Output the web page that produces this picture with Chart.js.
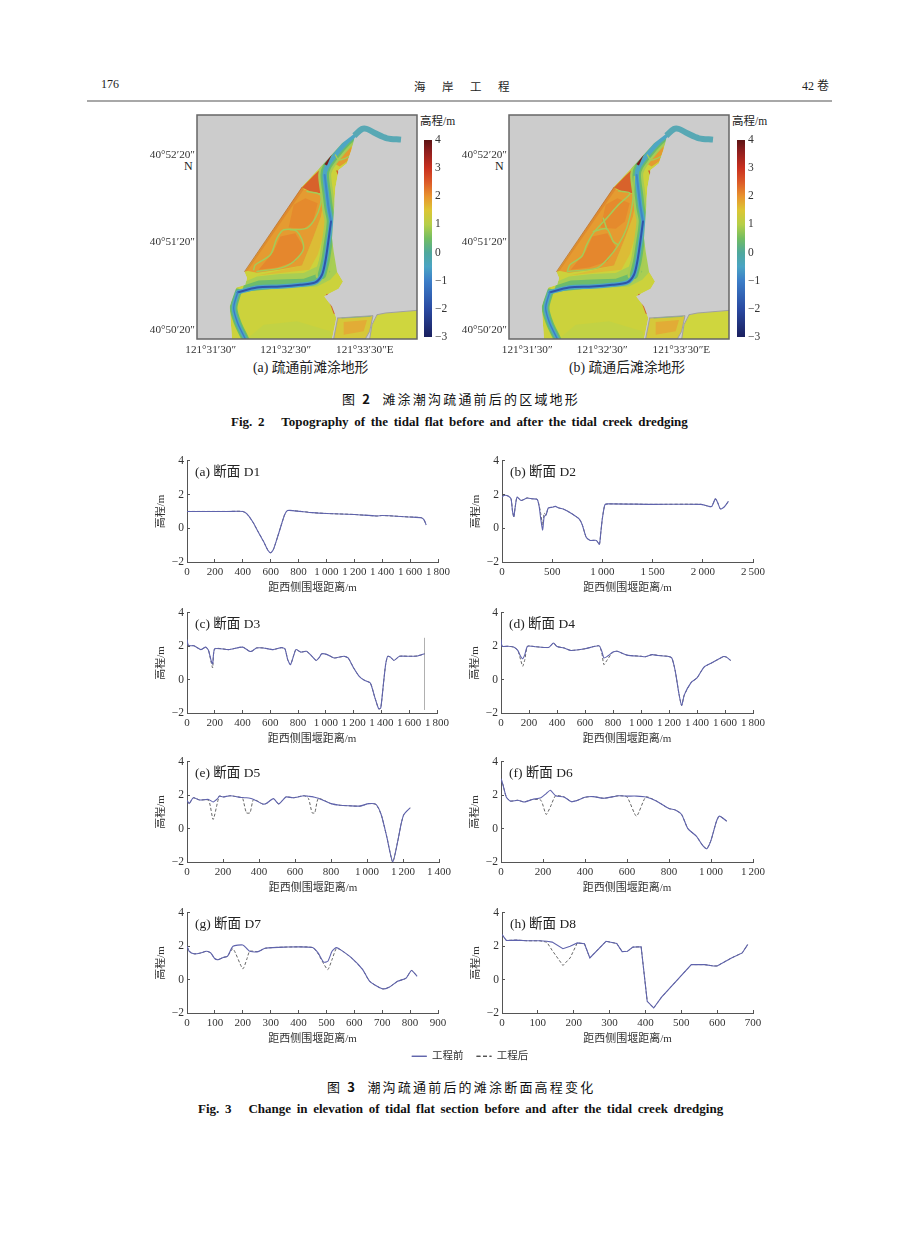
<!DOCTYPE html>
<html>
<head>
<meta charset="utf-8">
<script src="https://cdn.jsdelivr.net/npm/chart.js@4"></script>
<style>
html, body { margin: 0; background: #fff; }
#page { position: relative; width: 920px; height: 1249px; overflow: hidden; font-family: "Liberation Serif", "Noto Sans CJK SC"; color: #222; }
#page canvas { position: absolute; }
.t { position: absolute; white-space: pre; line-height: 16px; }
.head { font-family: "Noto Sans CJK SC"; font-size: 13px; letter-spacing: 2.2px; color: #111; }
.en { font-weight: bold; font-size: 13px; color: #111; word-spacing: 2.4px; }
.map { filter: blur(0.6px); }
</style>
</head>
<body>
<div id="page">
  <div class="t" style="left:101px;top:76px;font-size:12px">176</div>
  <div class="t" style="left:414px;top:78px;font-size:11.5px;letter-spacing:16.5px;font-family:'Noto Sans CJK SC'">海岸工程</div>
  <div class="t" style="left:802px;top:78px;font-size:12px">42 卷</div>
  <div style="position:absolute;left:87px;top:100px;width:745px;height:2px;background:#a8a8a8"></div>

  <div class="t" style="left:420px;top:113px;font-size:11.5px">高程/m</div>
  <div class="t" style="left:732px;top:113px;font-size:11.5px">高程/m</div>
  <div class="t" style="left:184px;top:158px;font-size:12px">N</div>
  <div class="t" style="left:495px;top:158px;font-size:12px">N</div>
  <div class="t" style="left:253px;top:360px;font-size:13.8px">(a) 疏通前滩涂地形</div>
  <div class="t" style="left:569px;top:360px;font-size:13.8px">(b) 疏通后滩涂地形</div>

  <div class="t head" style="left:342px;top:391px">图 <b>2</b>  滩涂潮沟疏通前后的区域地形</div>
  <div class="t en" style="left:231px;top:414px">Fig. 2   Topography of the tidal flat before and after the tidal creek dredging</div>
  <div class="t head" style="left:327px;top:1079px">图 <b>3</b>  潮沟疏通前后的滩涂断面高程变化</div>
  <div class="t en" style="left:198px;top:1101px">Fig. 3   Change in elevation of tidal flat section before and after the tidal creek dredging</div>

  <canvas id="mapA" class="map" width="290" height="270" style="left:147px;top:103px"></canvas>
  <canvas id="mapB" class="map" width="290" height="270" style="left:459px;top:103px"></canvas>
  <canvas id="barA" class="map" width="40" height="217" style="left:424px;top:130px"></canvas>
  <canvas id="barB" class="map" width="40" height="217" style="left:737px;top:130px"></canvas>

  <canvas id="d1" width="307" height="150" style="left:155px;top:448px"></canvas>
  <canvas id="d2" width="307" height="150" style="left:470px;top:448px"></canvas>
  <canvas id="d3" width="306" height="149" style="left:155px;top:600px"></canvas>
  <canvas id="d4" width="308" height="149" style="left:469px;top:600px"></canvas>
  <canvas id="d5" width="308" height="149" style="left:155px;top:749px"></canvas>
  <canvas id="d6" width="308" height="149" style="left:469px;top:749px"></canvas>
  <canvas id="d7" width="307" height="149" style="left:155px;top:900px"></canvas>
  <canvas id="d8" width="307" height="149" style="left:470px;top:900px"></canvas>
  <canvas id="legend" width="160" height="80" style="left:390px;top:1038px"></canvas>
</div>

<script>
// tick labels
const elevTicks = [4, 2, 0, -2];
const d1Ticks = [0, 200, 400, 600, 800, 1000, 1200, 1400, 1600, 1800];
const d2Ticks = [0, 500, 1000, 1500, 2000, 2500];
const d3Ticks = [0, 200, 400, 600, 800, 1000, 1200, 1400, 1600, 1800];
const d4Ticks = [0, 200, 400, 600, 800, 1000, 1200, 1400, 1600, 1800];
const d5Ticks = [0, 200, 400, 600, 800, 1000, 1200, 1400];
const d6Ticks = [0, 200, 400, 600, 800, 1000, 1200];
const d7Ticks = [0, 100, 200, 300, 400, 500, 600, 700, 800, 900];
const d8Ticks = [0, 100, 200, 300, 400, 500, 600, 700];
const legendLabels = ['工程前', '工程后'];

// section profiles: distance, elevation before and after dredging
const d1X = [0, 100, 200, 300, 400, 430, 470, 510, 550, 580, 600, 620, 650, 680, 700, 720, 760, 900, 1000, 1200, 1360, 1400, 1600, 1680, 1700, 1715];
const d1Before = [1, 1, 1, 1, 1, 0.85, 0.4, -0.2, -0.8, -1.3, -1.45, -1.25, -0.5, 0.3, 0.8, 1.05, 1.05, 0.93, 0.88, 0.82, 0.73, 0.76, 0.67, 0.63, 0.5, 0.2];
const d1After = [1, 1, 1, 1, 1, 0.85, 0.4, -0.2, -0.8, -1.3, -1.45, -1.25, -0.5, 0.3, 0.8, 1.05, 1.05, 0.93, 0.88, 0.82, 0.73, 0.76, 0.67, 0.63, 0.5, 0.2];

const d2X = [0, 20, 60, 90, 105, 118, 130, 150, 190, 250, 300, 350, 370, 385, 405, 420, 440, 460, 500, 530, 570, 620, 700, 770, 800, 840, 880, 940, 970, 985, 1000, 1025, 1060, 1500, 1980, 2060, 2090, 2125, 2150, 2175, 2210, 2255];
const d2Before = [1.85, 1.95, 1.92, 1.75, 1, 0.7, 1.2, 1.85, 1.65, 1.8, 1.75, 1.72, 1.3, 0.6, -0.1, 0.7, 0.8, 1.2, 1.25, 1.3, 1.2, 1.12, 0.85, 0.55, 0.2, -0.55, -0.72, -0.72, -0.95, -0.2, 0.6, 1.4, 1.45, 1.42, 1.42, 1.3, 1.3, 1.75, 1.5, 1.15, 1.25, 1.6];
const d2After = [2, 1.95, 1.92, 1.75, 1, 0.65, 1.2, 1.85, 1.65, 1.8, 1.75, 1.72, 1.35, 0.9, 0.2, 0.9, 0.8, 1.2, 1.25, 1.3, 1.2, 1.12, 0.85, 0.55, 0.2, -0.55, -0.72, -0.72, -0.95, -0.2, 0.6, 1.4, 1.45, 1.42, 1.42, 1.3, 1.3, 1.75, 1.5, 1.15, 1.25, 1.6];

const d3X = [0, 10, 50, 100, 135, 155, 175, 185, 200, 300, 400, 450, 470, 500, 550, 620, 680, 705, 725, 745, 770, 785, 820, 860, 900, 930, 950, 970, 1010, 1060, 1130, 1160, 1200, 1240, 1280, 1320, 1350, 1380, 1395, 1415, 1430, 1445, 1465, 1490, 1530, 1600, 1660, 1710];
const d3Before = [2.4, 2.05, 2.03, 1.8, 1.95, 1.75, 1.1, 0.95, 1.85, 1.8, 1.95, 1.7, 1.72, 1.9, 1.9, 1.8, 1.92, 1.85, 1.2, 0.9, 1.5, 1.8, 1.65, 1.7, 1.4, 1.15, 1.3, 1.55, 1.5, 1.3, 1.4, 1.3, 0.7, 0.2, -0.05, -0.2, -1, -1.75, -1.7, -0.2, 0.9, 1.4, 1.35, 1.15, 1.4, 1.4, 1.42, 1.55];
const d3After = [2.4, 2.05, 2.03, 1.8, 1.95, 1.75, 1, 0.7, 1.85, 1.8, 1.95, 1.7, 1.72, 1.9, 1.9, 1.8, 1.92, 1.85, 1.2, 0.9, 1.5, 1.8, 1.65, 1.7, 1.4, 1.15, 1.3, 1.55, 1.5, 1.3, 1.4, 1.3, 0.7, 0.2, -0.05, -0.2, -1, -1.75, -1.7, -0.2, 0.9, 1.4, 1.35, 1.15, 1.4, 1.4, 1.42, 1.55];
const d3EdgeX = [1710, 1710];
const d3EdgeY = [2.5, -1.8];

const d4X = [0, 8, 50, 90, 120, 140, 155, 170, 190, 250, 340, 375, 400, 450, 500, 600, 700, 720, 735, 760, 800, 830, 900, 1000, 1030, 1080, 1120, 1190, 1220, 1245, 1270, 1290, 1310, 1360, 1400, 1450, 1500, 1590, 1610, 1640];
const d4Before = [2.4, 2, 2, 1.95, 1.75, 1.4, 1.25, 1.5, 2, 1.97, 1.93, 2.2, 1.98, 1.9, 1.75, 1.85, 2.03, 1.7, 1.3, 1.4, 1.65, 1.7, 1.47, 1.4, 1.37, 1.5, 1.45, 1.4, 1.3, 0.5, -0.8, -1.55, -0.9, -0.15, 0.1, 0.75, 0.98, 1.38, 1.35, 1.15];
const d4After = [2.4, 2, 2, 1.95, 1.75, 1.2, 0.8, 1.2, 2, 1.97, 1.93, 2.2, 1.98, 1.9, 1.75, 1.85, 2.03, 1.6, 0.9, 1.2, 1.65, 1.7, 1.47, 1.4, 1.37, 1.5, 1.45, 1.4, 1.3, 0.5, -0.8, -1.55, -0.9, -0.15, 0.1, 0.75, 0.98, 1.38, 1.35, 1.15];

const d5X = [0, 12, 35, 70, 120, 145, 170, 180, 200, 240, 300, 310, 330, 350, 370, 420, 440, 480, 510, 550, 590, 650, 675, 695, 710, 730, 800, 850, 900, 960, 1010, 1050, 1080, 1110, 1143, 1170, 1190, 1205, 1240];
const d5Before = [1.7, 1.5, 1.85, 1.72, 1.75, 1.6, 1.8, 1.95, 1.9, 1.97, 1.87, 1.87, 1.85, 1.82, 1.75, 1.48, 1.5, 1.8, 1.48, 1.9, 1.85, 1.97, 1.94, 1.92, 1.88, 1.82, 1.5, 1.4, 1.37, 1.35, 1.5, 1.45, 0.8, -0.5, -2, -0.8, 0.3, 0.85, 1.25];
const d5After = [1.7, 1.5, 1.85, 1.72, 1.7, 0.55, 1.6, 1.95, 1.9, 1.97, 1.87, 1.8, 0.95, 0.95, 1.75, 1.48, 1.5, 1.8, 1.48, 1.9, 1.85, 1.97, 1.8, 0.95, 0.95, 1.8, 1.5, 1.4, 1.37, 1.35, 1.5, 1.45, 0.8, -0.5, -2, -0.8, 0.3, 0.85, 1.25];

const d6X = [0, 10, 25, 45, 80, 110, 150, 190, 215, 235, 260, 300, 335, 360, 400, 440, 490, 560, 600, 645, 690, 740, 800, 830, 860, 890, 930, 960, 980, 1000, 1025, 1040, 1075];
const d6Before = [3, 2.6, 1.9, 1.65, 1.7, 1.6, 1.75, 1.85, 2.1, 2.3, 1.97, 1.9, 1.62, 1.68, 1.88, 1.92, 1.82, 1.97, 1.95, 1.95, 1.9, 1.65, 1.2, 1.12, 0.85, 0, -0.45, -1, -1.2, -0.7, 0.4, 0.75, 0.45];
const d6After = [3, 2.6, 1.9, 1.65, 1.7, 1.6, 1.75, 1.7, 0.85, 1.3, 1.97, 1.9, 1.62, 1.68, 1.88, 1.92, 1.82, 1.97, 1.9, 0.75, 1.9, 1.65, 1.2, 1.12, 0.85, 0, -0.45, -1, -1.2, -0.7, 0.4, 0.75, 0.45];

const d7X = [0, 8, 25, 45, 70, 85, 100, 112, 130, 145, 165, 200, 215, 225, 255, 280, 350, 450, 470, 490, 505, 520, 535, 550, 590, 630, 655, 700, 725, 755, 785, 805, 825];
const d7Before = [2, 1.7, 1.55, 1.58, 1.7, 1.6, 1.25, 1.2, 1.33, 1.4, 2, 2.08, 1.85, 1.7, 1.68, 1.88, 1.95, 1.93, 1.6, 1.05, 1.1, 1.7, 1.92, 1.8, 1.3, 0.6, -0.1, -0.55, -0.45, -0.1, 0.08, 0.55, 0.2];
const d7After = [2, 1.7, 1.55, 1.58, 1.7, 1.6, 1.25, 1.2, 1.33, 1.4, 1.85, 0.65, 1.25, 1.7, 1.68, 1.88, 1.95, 1.93, 1.55, 0.95, 0.6, 1.2, 1.85, 1.8, 1.3, 0.6, -0.1, -0.55, -0.45, -0.1, 0.08, 0.55, 0.2];

const d8X = [0, 12, 40, 70, 105, 125, 140, 170, 190, 210, 230, 245, 290, 320, 335, 350, 365, 388, 405, 423, 445, 528, 565, 590, 600, 640, 670, 685];
const d8Before = [2.7, 2.35, 2.37, 2.33, 2.33, 2.3, 2.25, 1.85, 2, 2.2, 2.15, 1.3, 2.3, 2.17, 1.68, 1.7, 1.95, 1.97, -1.3, -1.7, -1.05, 0.9, 0.9, 0.82, 0.82, 1.3, 1.6, 2.1];
const d8After = [2.7, 2.35, 2.37, 2.33, 2.33, 2.25, 1.75, 0.85, 1.3, 2.2, 2.15, 1.3, 2.3, 2.17, 1.68, 1.7, 1.95, 1.97, -1.3, -1.7, -1.05, 0.9, 0.9, 0.82, 0.82, 1.3, 1.6, 2.1];

// map outlines, in grid units of the map image
const mapXTicks = [235, 460, 685];
const mapYTicks = [150, 412, 675];
const mapYLabels = ['40°52′20″', '40°51′20″', '40°50′20″'];
const mapXLabels = ['121°31′30″', '121°32′30″', '\u00a0\u00a0\u00a0121°33′30″E'];
const colorbarTicks = [4, 3, 2, 1, 0, -1, -2, -3];
const colorbarRange = [-3, 4];

const land = [[305,703],[298,605],[303,590],[318,548],[345,540],[350,520],[342,500],[515,245],[590,165],[635,115],[670,88],[690,75],[700,78],[672,100],[665,130],[650,175],[625,195],[615,250],[610,330],[605,400],[610,440],[620,500],[638,530],[625,552],[600,565],[582,575],[605,605],[618,640],[605,703]];
const maskEast = [[700,75],[672,100],[665,130],[650,175],[625,195],[615,250],[610,330],[605,400],[610,440],[620,500],[638,530],[625,552],[600,565],[582,575],[605,605],[618,640],[605,703],[860,703],[860,30],[700,30]];
const maskWest = [[342,500],[515,245],[590,165],[635,115],[670,88],[690,75],[700,75],[700,30],[200,30],[200,703],[305,703],[298,605],[303,590],[318,548],[345,540],[350,520]];
const flatOchre = [[515,482],[532,440],[550,395],[572,335],[578,300],[587,330],[577,400],[562,450],[537,495],[450,505],[380,512]];
const flatOrange = [[350,498],[430,380],[515,252],[572,268],[578,300],[572,335],[550,395],[532,440],[515,482],[450,494],[380,504]];
const flatCore1 = [[385,495],[430,440],[450,395],[495,385],[522,430],[495,470],[440,488]];
const flatCore2 = [[490,300],[525,280],[562,295],[548,350],[520,372],[475,368]];
const flatStrip = [[345,500],[515,247],[521,252],[351,499]];
const flatRed = [[515,248],[550,212],[583,180],[575,225],[574,266],[540,260]];
const flatDark = [[582,178],[605,147],[597,165],[590,182]];
const flatNE = [[612,150],[640,118],[665,100],[663,135],[650,170],[628,185],[606,172]];
const lowGreen = [[350,703],[400,660],[500,650],[600,680],[605,703]];
const fringeLight = [[345,530],[380,515],[450,508],[520,505],[560,485],[578,430],[592,370],[612,420],[622,500],[600,525],[560,545],[450,552],[340,560]];
const fringeGreen = [[340,542],[385,527],[450,524],[520,522],[560,508],[578,480],[600,500],[575,525],[550,540],[450,550],[335,562]];
const pondA = [[622,640],[728,633],[718,680],[705,703],[610,703]];
const pondCore = [[640,652],[710,646],[700,680],[640,690]];
const pondB = [[740,630],[765,625],[860,617],[860,703],[718,703],[725,660]];
const channelNorth = [[575,510],[585,470],[592,425],[602,350],[595,310],[590,270],[583,210],[590,185],[615,150],[650,110],[672,92]];
const channelMain = [[322,563],[380,548],[450,545],[510,540],[555,533],[575,510],[585,470],[592,425],[602,350],[595,310],[590,270],[583,210],[590,185],[615,150],[650,110],[672,92]];
const channelDeep = [[322,563],[380,548],[450,545],[510,540],[555,533],[575,510],[585,470],[592,425],[602,350]];
const channelUpper = [[602,350],[595,310],[590,270],[583,210]];
const channelSouth = [[322,563],[310,610],[322,655],[345,703]];
const tail = [[672,92],[695,72],[710,72],[735,85],[770,100],[812,104]];
const edgeNW = [[343,500],[515,247]];
const edgeSE = [[590,570],[603,600],[612,625]];
const edgeE = [[620,198],[626,212]];
const pondEdge = [[635,640],[720,635]];
const creekNE = [[615,150],[625,165],[645,160],[655,155]];
const creeksA = [
  [[370,495],[375,480],[420,450],[440,400],[460,375],[500,380],[520,430],[490,470],[450,490],[380,500]],
  [[530,260],[570,270],[570,300],[555,340],[530,370],[480,375]]
];
const creeksB = [
  [[375,500],[383,480],[418,455],[433,420],[453,385],[493,340],[528,300],[563,265],[528,258]],
  [[378,500],[463,490],[498,460],[528,420],[553,370],[568,310],[573,270],[576,215]],
  [[453,380],[493,372],[513,410],[528,420]],
  [[483,340],[493,372]]
];

const colorValues = [4, 3.6, 3, 2.5, 2, 1.5, 1, 0.5, 0, -0.5, -1, -2, -3];
const colorStops = ['#5c1414', '#8e1e1e', '#c9301f', '#dc5a28', '#e8932e', '#dcc634', '#b6cf48', '#72bd62', '#4fa89c', '#4aa4c4', '#3c7ec8', '#2a4aa2', '#1a1f5e'];

const serif = '"Liberation Serif", "Noto Sans CJK SC"';
const inkColor = '#333';

function pts(pairs) {
    return pairs.map(p => ({ x: p[0], y: p[1] }));
}

function zipXY(xs, ys) {
    return xs.map((x, i) => ({ x: x, y: ys[i] }));
}

function fmtDist(v) {
    return String(v).replace(/(\d)(\d{3})$/, '$1\u2009$2');
}

function fmtElev(v) {
    return String(v).replace('-', '−');
}

function renderProfile(id, label, xTicks, xs, before, after, opts) {
    const tension = opts && opts.tension !== undefined ? opts.tension : 0.2;
    const datasets = [
        { data: zipXY(xs, before), borderColor: '#5f63ad', borderWidth: 1.1, pointRadius: 0, tension: tension },
        { data: zipXY(xs, after), borderColor: '#555', borderWidth: 0.9, borderDash: [3, 2], pointRadius: 0, tension: tension }
    ];
    if (opts && opts.extra) datasets.push(opts.extra);

    new Chart(document.getElementById(id), {
        type: 'line',
        data: { datasets: datasets },
        options: {
            responsive: false,
            animation: false,
            layout: { padding: { top: 12, right: 24 } },
            plugins: { legend: { display: false }, tooltip: { enabled: false } },
            scales: {
                x: {
                    type: 'linear',
                    min: xTicks[0],
                    max: xTicks[xTicks.length - 1],
                    afterBuildTicks: s => { s.ticks = xTicks.map(v => ({ value: v })); },
                    afterFit: s => { s.height = 36; },
                    grid: { drawOnChartArea: false, tickLength: -3, tickColor: '#555' },
                    border: { color: '#555' },
                    ticks: { autoSkip: false, maxRotation: 0, padding: 7, color: inkColor, font: { family: serif, size: 11 }, callback: fmtDist },
                    title: { display: true, text: '距西侧围堰距离/m', color: inkColor, padding: { top: 0, bottom: 3 }, font: { family: serif, size: 11 } }
                },
                y: {
                    min: -2,
                    max: 4,
                    afterBuildTicks: s => { s.ticks = elevTicks.map(v => ({ value: v })); },
                    afterFit: s => { s.width = 32; },
                    grid: { drawOnChartArea: false, tickLength: -3, tickColor: '#555' },
                    border: { color: '#555' },
                    ticks: { autoSkip: false, padding: 6, color: inkColor, font: { family: serif, size: 11.5 }, callback: fmtElev },
                    title: { display: true, text: '高程/m', color: inkColor, padding: 0, font: { family: serif, size: 11 } }
                }
            }
        },
        plugins: [{
            id: 'panelLabel',
            afterDraw(chart) {
                const { ctx, chartArea } = chart;
                ctx.save();
                ctx.fillStyle = '#222';
                ctx.font = '13.5px ' + serif;
                ctx.textBaseline = 'middle';
                ctx.fillText(label, chartArea.left + 8, chartArea.top + 12);
                ctx.restore();
            }
        }]
    });
}

function shape(pairs, color) {
    return { data: pts(pairs), showLine: true, fill: 'shape', backgroundColor: color, borderColor: color, borderWidth: 0, pointRadius: 0 };
}

function stroke(pairs, color, width) {
    return { data: pts(pairs), showLine: true, fill: false, borderColor: color, borderWidth: width, pointRadius: 0, tension: 0.3, borderCapStyle: 'round' };
}

function renderMap(id, creeks, labelShift) {
    // listed bottom layer first, chart.js paints the first dataset last so this gets reversed
    const layers = [
        shape(land, '#ccd23c'),
        shape(lowGreen, '#c2d244'),
        shape(flatOchre, '#dcbc36'),
        shape(flatOrange, '#e59b31'),
        shape(flatCore1, '#e5872d'),
        shape(flatCore2, '#e58a2d'),
        shape(flatStrip, '#df8a2e'),
        shape(flatRed, '#d8622b'),
        shape(flatNE, '#e39a30'),
        shape(fringeLight, '#a8ce54'),
        shape(fringeGreen, '#6cbc6c'),
        stroke(channelNorth, '#a6cc54', 13),
        stroke(channelNorth, '#68bb6c', 8.5),
        stroke(channelSouth, '#68bb6c', 7.5),
        stroke(channelMain, '#4ea6c4', 4.5),
        stroke(channelSouth, '#4ea6c4', 4),
        stroke(channelUpper, '#3f88c8', 2),
        stroke(channelDeep, '#2f55ab', 2),
        stroke(channelSouth, '#3d7cc4', 1.3),
        shape(flatDark, '#7c1f1f'),
        stroke(creekNE, '#a6cc54', 1.3)
    ];
    creeks.forEach(c => layers.push(stroke(c, '#a4cb58', 1.5)));
    layers.push(
        stroke(edgeSE, '#d2622f', 1.8),
        stroke(edgeE, '#d2622f', 1.5),
        shape(maskEast, '#cccccc'),
        shape(maskWest, '#cccccc'),
        stroke(edgeNW, '#c0683a', 0.8),
        Object.assign(stroke(tail, '#58a8b4', 6), { borderCapStyle: 'butt' }),
        shape(pondA, '#d6c83a'),
        shape(pondCore, '#e2ac36'),
        stroke(pondEdge, '#7cc06a', 1),
        shape(pondB, '#cfd63e'),
        Object.assign(stroke(pondA.concat([pondA[0]]), '#a0a0a0', 1), { tension: 0 }),
        Object.assign(stroke(pondB.slice(0, 3), '#a0a0a0', 1), { tension: 0 }),
        Object.assign(stroke(pondB.slice(4).concat([pondB[0]]), '#a0a0a0', 1), { tension: 0 })
    );

    new Chart(document.getElementById(id), {
        type: 'scatter',
        data: { datasets: layers.reverse() },
        options: {
            responsive: false,
            animation: false,
            layout: { padding: { top: 12, right: 20 } },
            plugins: { legend: { display: false }, tooltip: { enabled: false } },
            scales: {
                x: {
                    type: 'linear',
                    min: 200,
                    max: 860,
                    afterBuildTicks: s => { s.ticks = mapXTicks.map(v => ({ value: v })); },
                    afterFit: s => { s.height = 34; },
                    grid: { drawOnChartArea: false, tickLength: -3, tickColor: '#555' },
                    border: { display: false },
                    ticks: { autoSkip: false, maxRotation: 0, padding: 7, labelOffset: labelShift, color: inkColor, font: { family: serif, size: 11.2 }, callback: (v, i) => mapXLabels[i] }
                },
                y: {
                    reverse: true,
                    min: 30,
                    max: 703,
                    afterBuildTicks: s => { s.ticks = mapYTicks.map(v => ({ value: v })); },
                    afterFit: s => { s.width = 50; },
                    grid: { drawOnChartArea: false, tickLength: -3, tickColor: '#555' },
                    border: { display: false },
                    ticks: { autoSkip: false, padding: 5, color: inkColor, font: { family: serif, size: 11.2 }, callback: (v, i) => mapYLabels[i] }
                }
            }
        },
        plugins: [{
            id: 'mapFrame',
            beforeDatasetsDraw(chart) {
                const { ctx, chartArea: a } = chart;
                ctx.fillStyle = '#cccccc';
                ctx.fillRect(a.left, a.top, a.width, a.height);
            },
            afterDraw(chart) {
                const { ctx, chartArea: a } = chart;
                ctx.strokeStyle = '#666';
                ctx.lineWidth = 1.5;
                ctx.strokeRect(a.left, a.top, a.width, a.height);
            }
        }]
    });
}

function renderColorbar(id) {
    new Chart(document.getElementById(id), {
        type: 'bar',
        data: {
            labels: ['高程'],
            datasets: [{
                data: [colorbarRange],
                barPercentage: 1,
                categoryPercentage: 1,
                backgroundColor: function (context) {
                    const { chart } = context;
                    const area = chart.chartArea;
                    if (!area) return '#888';
                    const grad = chart.ctx.createLinearGradient(0, area.top, 0, area.bottom);
                    colorValues.forEach((v, i) => grad.addColorStop((4 - v) / 7, colorStops[i]));
                    return grad;
                }
            }]
        },
        options: {
            responsive: false,
            animation: false,
            layout: { padding: { top: 8, bottom: 8 } },
            plugins: { legend: { display: false }, tooltip: { enabled: false } },
            scales: {
                x: { display: false },
                y: {
                    position: 'right',
                    min: -3,
                    max: 4,
                    afterBuildTicks: s => { s.ticks = colorbarTicks.map(v => ({ value: v })); },
                    afterFit: s => { s.width = 32; },
                    grid: { drawOnChartArea: false, drawTicks: false },
                    border: { display: false },
                    ticks: { autoSkip: false, padding: 3, color: inkColor, font: { family: serif, size: 11.5 }, callback: fmtElev }
                }
            }
        }
    });
}

function renderLegend() {
    new Chart(document.getElementById('legend'), {
        type: 'line',
        data: {
            labels: [],
            datasets: [
                { label: legendLabels[0], data: [], borderColor: '#5a5ea8', backgroundColor: 'transparent', borderWidth: 1 },
                { label: legendLabels[1], data: [], borderColor: '#4a4a4a', backgroundColor: 'transparent', borderWidth: 1, borderDash: [4, 2.5] }
            ]
        },
        options: {
            responsive: false,
            animation: false,
            scales: { x: { display: false }, y: { display: false } },
            plugins: {
                tooltip: { enabled: false },
                legend: {
                    labels: { boxWidth: 15, boxHeight: 0, padding: 13, color: inkColor, font: { family: serif, size: 10.5 } }
                }
            }
        }
    });
}

renderMap('mapA', creeksA, 2);
renderMap('mapB', creeksB, 6.5);
renderColorbar('barA');
renderColorbar('barB');

renderProfile('d1', '(a) 断面 D1', d1Ticks, d1X, d1Before, d1After);
renderProfile('d2', '(b) 断面 D2', d2Ticks, d2X, d2Before, d2After);
renderProfile('d3', '(c) 断面 D3', d3Ticks, d3X, d3Before, d3After, { extra: { data: zipXY(d3EdgeX, d3EdgeY), borderColor: '#b0b0b0', borderWidth: 1, pointRadius: 0 } });
renderProfile('d4', '(d) 断面 D4', d4Ticks, d4X, d4Before, d4After);
renderProfile('d5', '(e) 断面 D5', d5Ticks, d5X, d5Before, d5After);
renderProfile('d6', '(f) 断面 D6', d6Ticks, d6X, d6Before, d6After);
renderProfile('d7', '(g) 断面 D7', d7Ticks, d7X, d7Before, d7After);
renderProfile('d8', '(h) 断面 D8', d8Ticks, d8X, d8Before, d8After, { tension: 0 });
renderLegend();
</script>
</body>
</html>
